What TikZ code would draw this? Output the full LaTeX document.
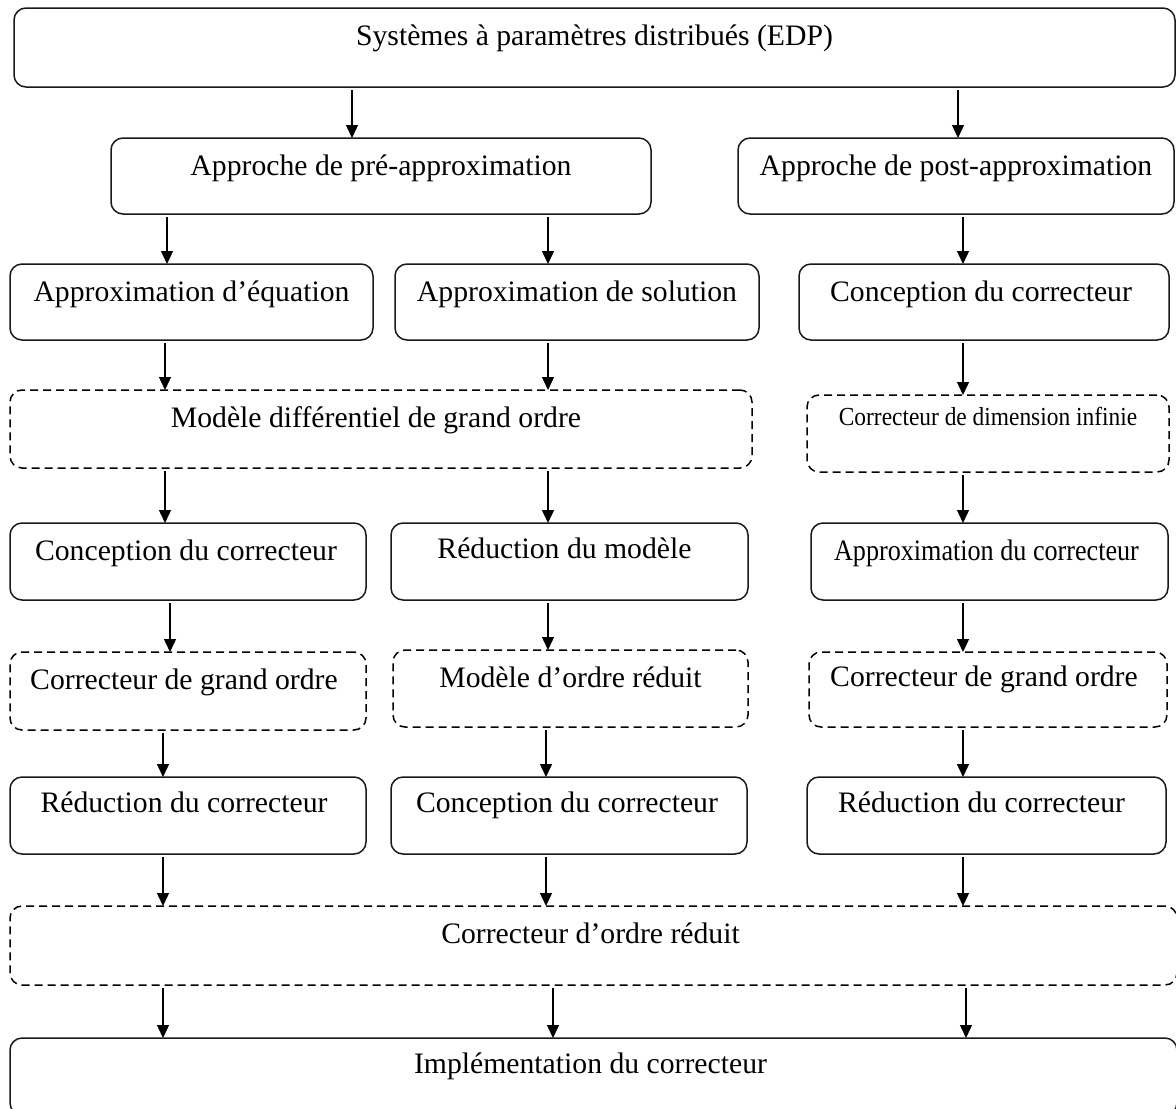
\documentclass[tikz,border=0pt]{standalone}
\usepackage{fontspec}
\setmainfont{Liberation Serif}
\usetikzlibrary{arrows.meta}
\tikzset{
  solidbox/.style={draw=black!90, line width=1.5pt, rounded corners=12pt, inner sep=0pt, outer sep=0pt},
  dashbox/.style={solidbox, draw=black, dash pattern=on 8pt off 5pt},
  lbl/.style={anchor=base, inner sep=0pt, font=\fontsize{29.7}{32}\selectfont},
  arr/.style={draw=black, line width=1.4pt, shorten <=3pt, -{Triangle[length=13pt,width=12pt]}}
}
\newcommand\mybox[9]{%
  \pgfmathsetmacro\bw{#5-#3}\pgfmathsetmacro\bh{#6-#4}%
  \pgfmathsetmacro\bcx{(#3+#5)/2}\pgfmathsetmacro\bcy{(#4+#6)/2}%
  \node[#1, minimum width=\bw pt, minimum height=\bh pt] (#2) at (\bcx,\bcy) {};
  \node[lbl, #8] (#2-t) at ([yshift=-#9pt]#2.north) {#7};
}
\newcommand\myarr[3]{%
  \coordinate (tmpx) at (#3,0);
  \draw[arr] (#1.south -| tmpx) -- (#2.north -| tmpx);
}
\begin{document}
\begin{tikzpicture}[x=1pt,y=-1pt]
\useasboundingbox[fill=white] (0,0) rectangle (1176,1109);
\mybox{solidbox}{top}{14}{8}{1175}{87}{Systèmes à paramètres distribués (EDP)}{}{37}
\mybox{solidbox}{pre}{111}{138}{651}{214}{Approche de pré-approximation}{}{37}
\mybox{solidbox}{post}{738}{138}{1174}{214}{Approche de post-approximation}{}{37}
\mybox{solidbox}{r3a}{10}{264}{373}{340}{Approximation d’équation}{}{37}
\mybox{solidbox}{r3b}{395}{264}{759}{340}{Approximation de solution}{}{37}
\mybox{solidbox}{r3c}{799}{264}{1169}{340}{Conception du correcteur}{xshift=-3pt}{37}
\mybox{dashbox}{r4a}{10}{390}{752}{468}{Modèle différentiel de grand ordre}{xshift=-5pt}{37}
\mybox{dashbox}{r4c}{807}{395}{1169}{472}{\scalebox{0.9}[1]{Correcteur de dimension infinie}}{font=\fontsize{26}{28}\selectfont}{30}
\mybox{solidbox}{r5a}{10}{523}{366}{600}{Conception du correcteur}{xshift=-2pt}{37}
\mybox{solidbox}{r5b}{391}{523}{748}{600}{Réduction du modèle}{xshift=-5pt}{35}
\mybox{solidbox}{r5c}{811}{523}{1168}{600}{\scalebox{0.88}[1]{Approximation du correcteur}}{xshift=-3pt}{37}
\mybox{dashbox}{r6a}{10}{652}{366}{730}{Correcteur de grand ordre}{xshift=-4pt}{37}
\mybox{dashbox}{r6b}{393}{650}{748}{727}{Modèle d’ordre réduit}{}{37}
\mybox{dashbox}{r6c}{809}{652}{1167}{727}{Correcteur de grand ordre}{xshift=-4pt}{34}
\mybox{solidbox}{r7a}{10}{777}{366}{854}{Réduction du correcteur}{xshift=-4pt}{35}
\mybox{solidbox}{r7b}{391}{777}{747}{854}{Conception du correcteur}{xshift=-2pt}{35}
\mybox{solidbox}{r7c}{807}{777}{1166}{854}{Réduction du correcteur}{xshift=-5pt}{35}
\mybox{dashbox}{r8}{10}{906}{1177}{985}{Correcteur d’ordre réduit}{xshift=-3pt}{37}
\mybox{solidbox}{r9}{10}{1038}{1177}{1115}{Implémentation du correcteur}{xshift=-3pt}{35}
\myarr{top}{pre}{352}
\myarr{top}{post}{958}
\myarr{pre}{r3a}{167}
\myarr{pre}{r3b}{548}
\myarr{post}{r3c}{963}
\myarr{r3a}{r4a}{165}
\myarr{r3b}{r4a}{548}
\myarr{r3c}{r4c}{963}
\myarr{r4a}{r5a}{165}
\myarr{r4a}{r5b}{548}
\myarr{r4c}{r5c}{963}
\myarr{r5a}{r6a}{170}
\myarr{r5b}{r6b}{548}
\myarr{r5c}{r6c}{963}
\myarr{r6a}{r7a}{163}
\myarr{r6b}{r7b}{546}
\myarr{r6c}{r7c}{963}
\myarr{r7a}{r8}{163}
\myarr{r7b}{r8}{546}
\myarr{r7c}{r8}{963}
\myarr{r8}{r9}{163}
\myarr{r8}{r9}{553}
\myarr{r8}{r9}{966}
\end{tikzpicture}
\end{document}
